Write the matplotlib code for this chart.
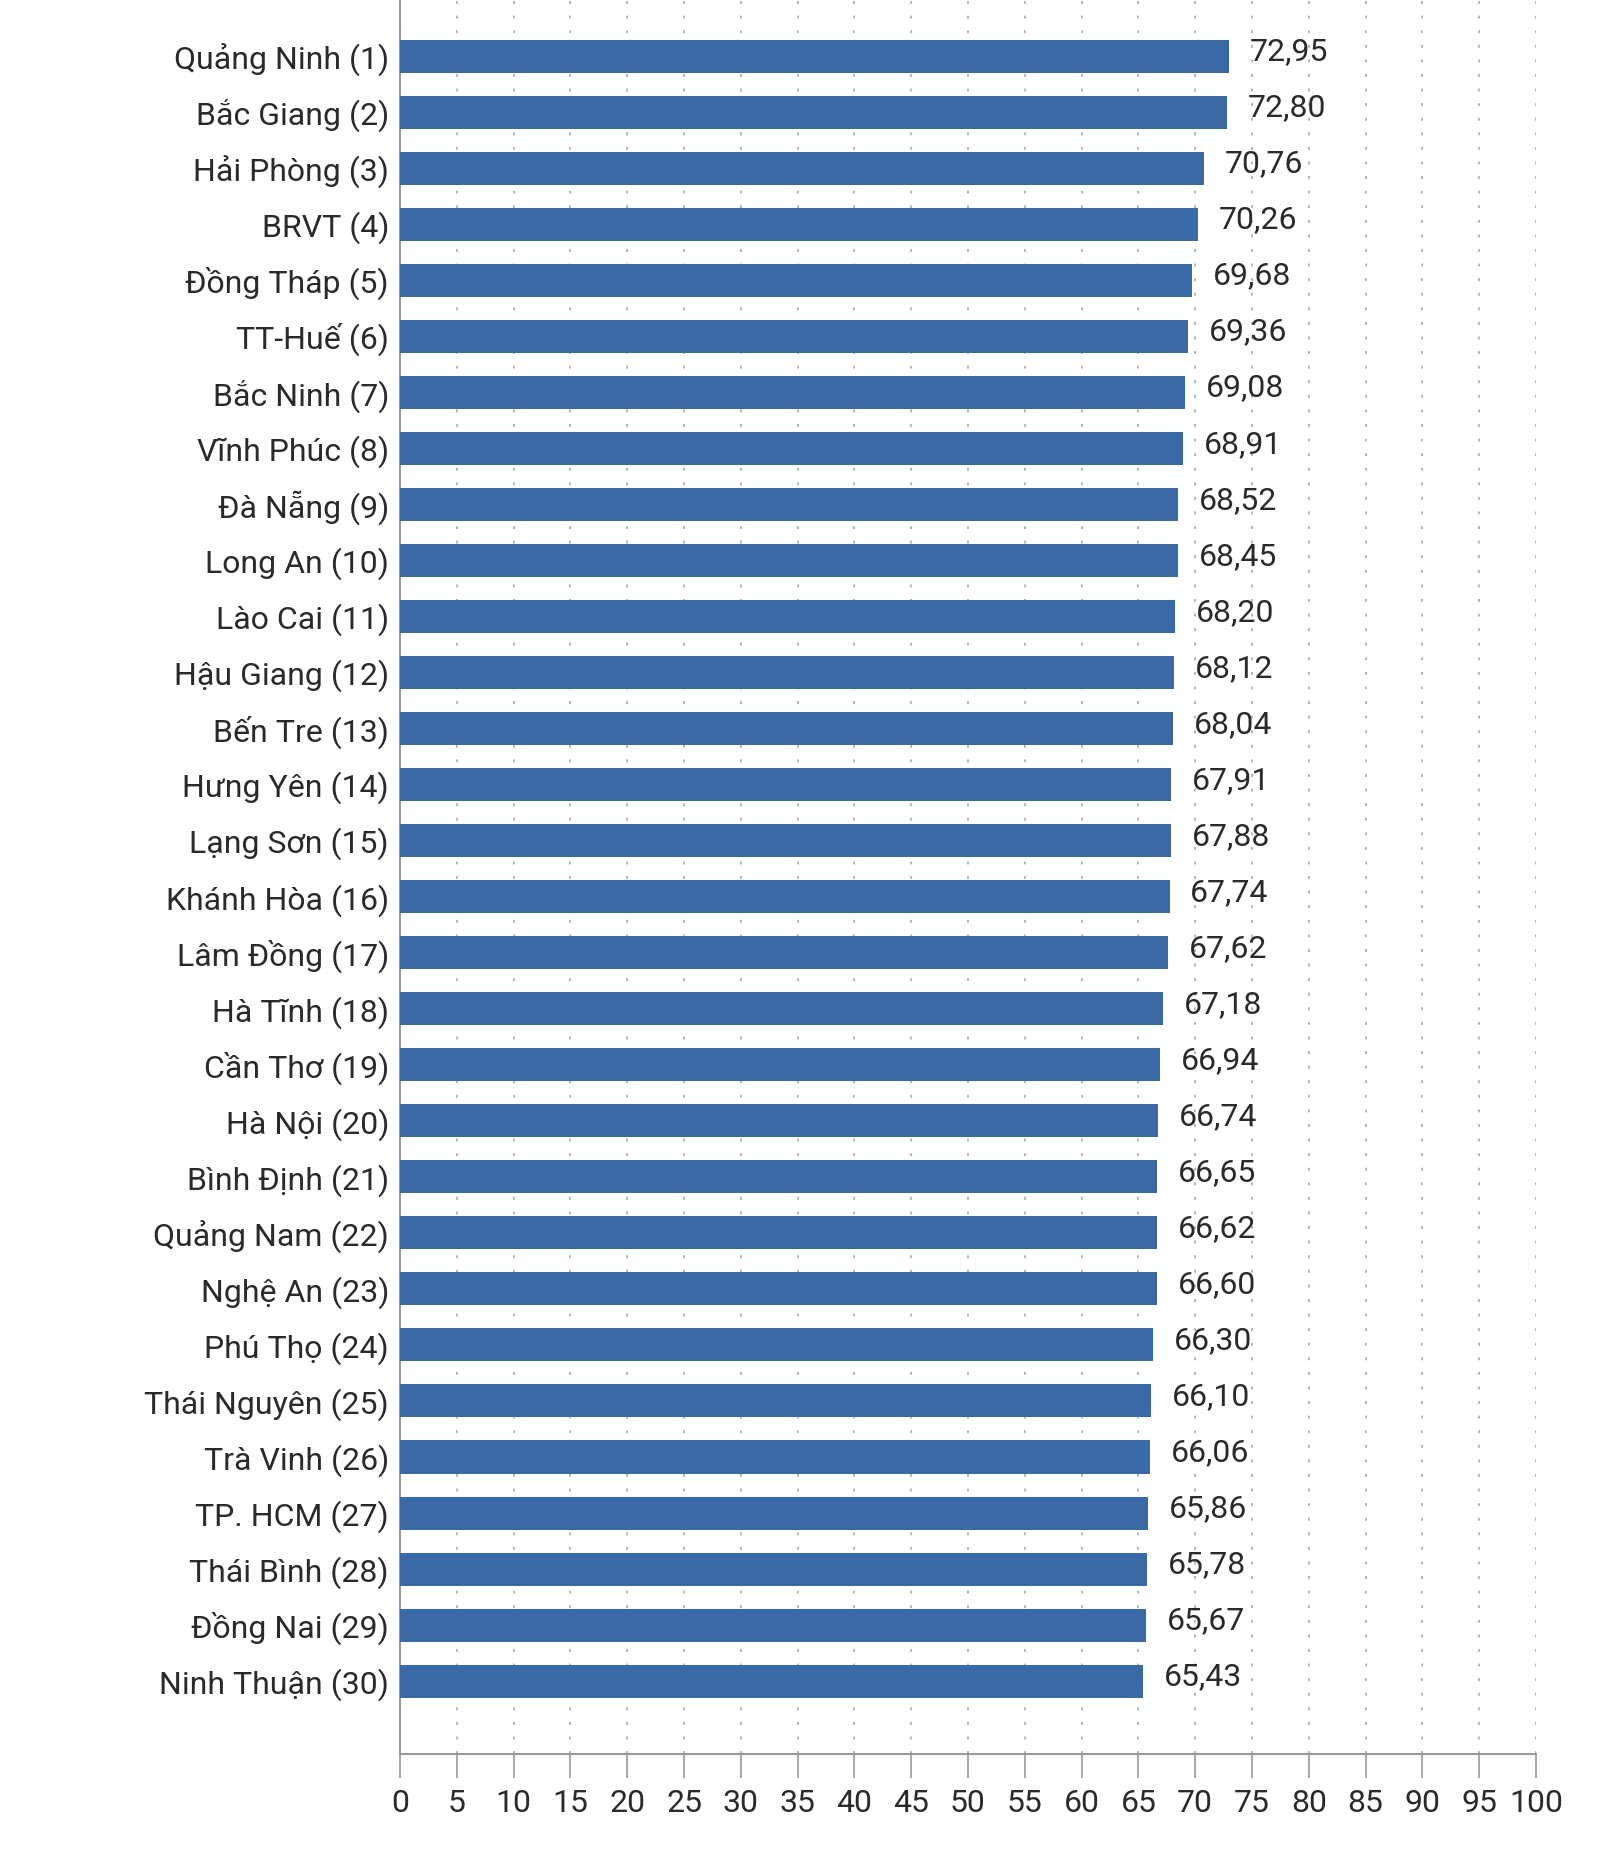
import matplotlib
matplotlib.use("Agg")
import matplotlib.pyplot as plt
from matplotlib.font_manager import fontManager

provinces = ["Quảng Ninh (1)", "Bắc Giang (2)", "Hải Phòng (3)", "BRVT (4)", "Đồng Tháp (5)",
             "TT-Huế (6)", "Bắc Ninh (7)", "Vĩnh Phúc (8)", "Đà Nẵng (9)", "Long An (10)",
             "Lào Cai (11)", "Hậu Giang (12)", "Bến Tre (13)", "Hưng Yên (14)", "Lạng Sơn (15)",
             "Khánh Hòa (16)", "Lâm Đồng (17)", "Hà Tĩnh (18)", "Cần Thơ (19)", "Hà Nội (20)",
             "Bình Định (21)", "Quảng Nam (22)", "Nghệ An (23)", "Phú Thọ (24)", "Thái Nguyên (25)",
             "Trà Vinh (26)", "TP. HCM (27)", "Thái Bình (28)", "Đồng Nai (29)", "Ninh Thuận (30)"]
scores = [72.95, 72.80, 70.76, 70.26, 69.68, 69.36, 69.08, 68.91, 68.52, 68.45,
          68.20, 68.12, 68.04, 67.91, 67.88, 67.74, 67.62, 67.18, 66.94, 66.74,
          66.65, 66.62, 66.60, 66.30, 66.10, 66.06, 65.86, 65.78, 65.67, 65.43]
xticks = list(range(0, 101, 5))

names = {f.name for f in fontManager.ttflist}
fams = [f for f in ["Liberation Sans Narrow", "DejaVu Sans Condensed", "Roboto", "DejaVu Sans"] if f in names]
plt.rcParams['font.family'] = fams
narrow = fams[0] in ("Liberation Sans Narrow", "DejaVu Sans Condensed")
fs = 27 if narrow else 23

fig = plt.figure(figsize=(16, 18.62), dpi=100)
ax = fig.add_axes([0.25, 0.058, 0.71, 0.942])

ypos = list(range(len(provinces)))
ax.barh(ypos, scores, height=0.59, color="#3B69A5", zorder=3)
for y, v in zip(ypos, scores):
    ax.annotate(f"{v:.2f}".replace(".", ","), (v, y), xytext=(15, 3), textcoords="offset points",
                ha="left", va="center", fontsize=fs, color="#2a2a2a", zorder=4)

ax.set_xlim(0, 100)
ax.set_ylim(30.3, -1.0)
ax.set_yticks(ypos)
ax.set_yticklabels(provinces, fontsize=fs, color="#2a2a2a")
ax.tick_params(axis="y", length=0, pad=8)
ax.set_xticks(xticks)
ax.set_xticklabels([str(t) for t in xticks], fontsize=fs, color="#2a2a2a")
ax.tick_params(axis="x", length=17, width=1.2, color="#999999", pad=8)
ax.grid(axis="x", color="#b5b5b5", linestyle=(0, (1.5, 6)), linewidth=1.4, zorder=0)
for s in ["top", "right"]:
    ax.spines[s].set_visible(False)
ax.spines["left"].set_color("#999999")
ax.spines["bottom"].set_color("#999999")
ax.spines["left"].set_linewidth(1.5)
ax.spines["bottom"].set_linewidth(1.5)

fig.savefig("out.png", dpi=100)
